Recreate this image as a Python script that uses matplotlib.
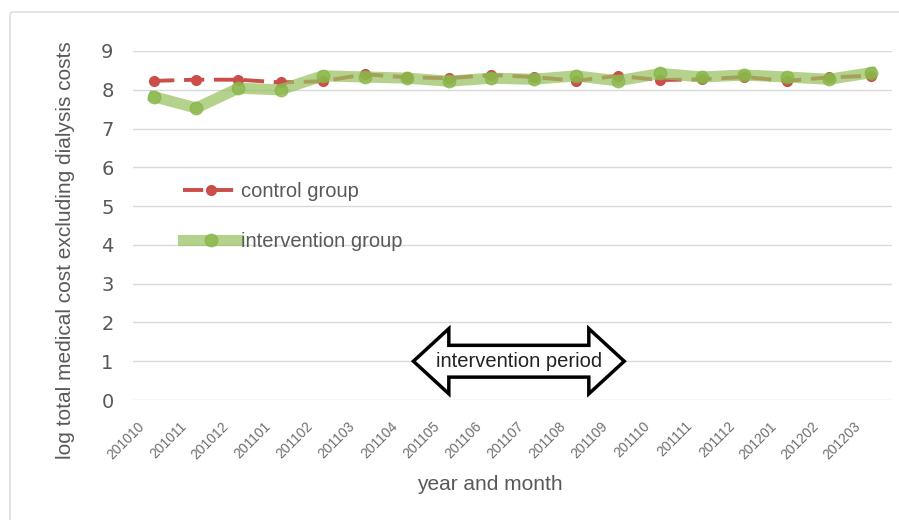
import matplotlib
matplotlib.use("Agg")
import matplotlib.pyplot as plt
from matplotlib.patches import Polygon, FancyBboxPatch
from matplotlib.transforms import ScaledTranslation

months = ['201010', '201011', '201012', '201101', '201102', '201103',
          '201104', '201105', '201106', '201107', '201108', '201109',
          '201110', '201111', '201112', '201201', '201202', '201203']
control = [8.23, 8.26, 8.26, 8.19, 8.22, 8.40, 8.32, 8.30, 8.38, 8.33,
           8.23, 8.36, 8.25, 8.27, 8.33, 8.23, 8.32, 8.36]
intervention = [7.82, 7.53, 8.04, 8.00, 8.36, 8.33, 8.30, 8.22, 8.30, 8.27,
                8.36, 8.23, 8.42, 8.33, 8.38, 8.33, 8.27, 8.44]

# arrow for the intervention period (x in month index, y in axis units)
period_start, period_end = 6.15, 11.15
period_y = 1.0

GRAY = '#595959'
label_font = ['Liberation Sans', 'DejaVu Sans']

fig = plt.figure(figsize=(8.99, 5.20), dpi=100)
fig.patches.append(FancyBboxPatch((10 / 899, -0.05), 1.0, 1 - 12 / 520 + 0.05,
                                  boxstyle='round,pad=0,rounding_size=0.005',
                                  transform=fig.transFigure, fc='white',
                                  ec='#d9d9d9', lw=1, zorder=-10))
ax = fig.add_axes([133 / 899, 1 - 400 / 520, 759 / 899, 349 / 520])
ax.set_facecolor('none')

x = list(range(len(months)))
ax.plot(x, control, color='#CB4E4B', lw=2.8, ls=(0, (5.2, 2.5)), marker='o',
        ms=7, mec='#CB4E4B', mfc='#CB4E4B', label='control group', zorder=3)
ax.plot(x, intervention, color='#97C160', lw=8, alpha=0.72, marker='o',
        ms=9, mfc='#86B545', mec='#86B545', label='intervention group', zorder=4)

ax.set_xlim(-0.5, len(months) - 0.5)
ax.set_ylim(0, 9)
ax.set_yticks(range(10))
ax.grid(axis='y', color='#d9d9d9', lw=1)
ax.set_axisbelow(True)
for s in ax.spines.values():
    s.set_visible(False)
ax.tick_params(axis='both', length=0)
ax.tick_params(axis='y', labelsize=14, labelcolor=GRAY, pad=14)
ax.set_xticks(x)
ax.set_xticklabels(months, rotation=45, ha='right', rotation_mode='anchor',
                   fontsize=10, color='#6f6f6f', family='Liberation Sans')
ax.tick_params(axis='x', pad=8)
shift = ScaledTranslation(-17 / 100, -8 / 100, fig.dpi_scale_trans)
for lab in ax.get_xticklabels():
    lab.set_transform(lab.get_transform() + shift)

ax.set_ylabel('log total medical cost excluding dialysis costs', fontsize=15,
              color=GRAY, family='Liberation Sans')
ax.yaxis.set_label_coords(-0.077, 0.43)
ax.set_xlabel('year and month', fontsize=15, color=GRAY, family=label_font)
ax.xaxis.set_label_coords(0.47, -0.215)

leg = ax.legend(loc='upper left', bbox_to_anchor=(0.066, 0.625), frameon=False,
                handlelength=2.75, handletextpad=0.15, labelspacing=1.55,
                borderpad=0, borderaxespad=0,
                prop={'family': label_font, 'size': 14.5})
for t in leg.get_texts():
    t.set_color(GRAY)

# double-headed arrow
head = 0.84
body = 0.41
head_len = 0.84
pts = [(period_start, period_y),
       (period_start + head_len, period_y + head),
       (period_start + head_len, period_y + body),
       (period_end - head_len, period_y + body),
       (period_end - head_len, period_y + head),
       (period_end, period_y),
       (period_end - head_len, period_y - head),
       (period_end - head_len, period_y - body),
       (period_start + head_len, period_y - body),
       (period_start + head_len, period_y - head)]
ax.add_patch(Polygon(pts, closed=True, fc='white', ec='black', lw=2.5,
                     joinstyle='miter', zorder=5))
ax.text((period_start + period_end) / 2, period_y, 'intervention period',
        ha='center', va='center', fontsize=14.5, color='#222222',
        family=label_font, zorder=6)

fig.savefig('out.png', dpi=100)
